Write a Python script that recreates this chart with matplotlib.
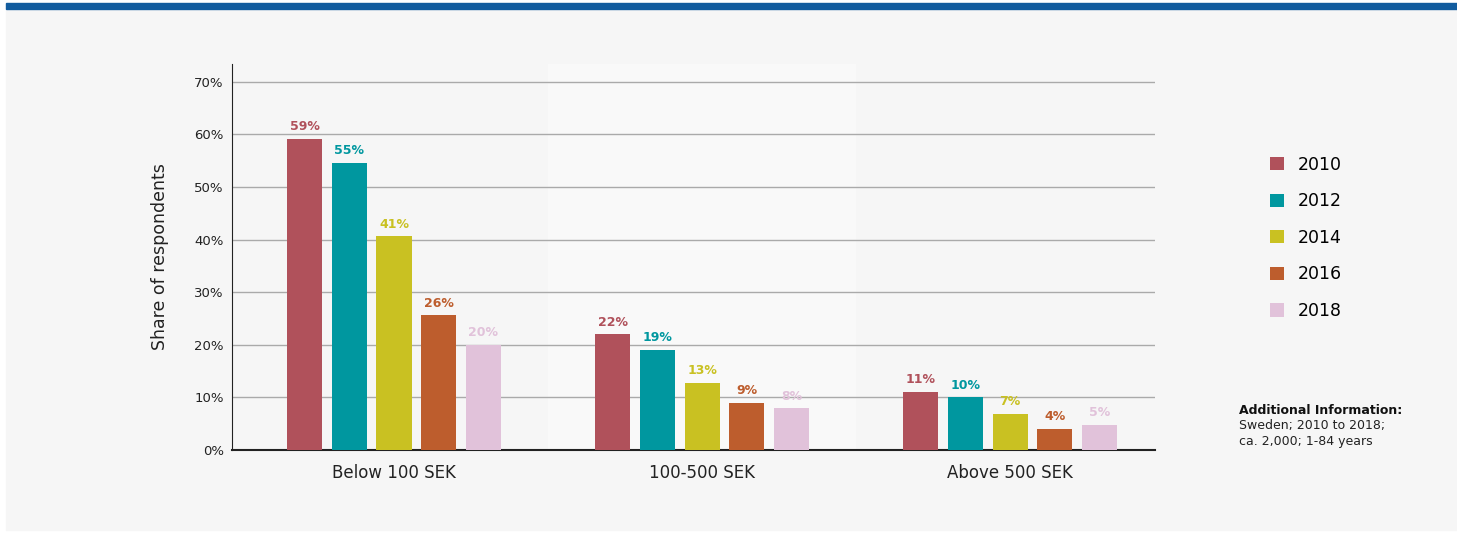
import numpy as np
import matplotlib.pyplot as plt
from matplotlib.patches import Rectangle

# データ
categories = ['Below 100 SEK', '100-500 SEK', 'Above 500 SEK']
years = ['2010', '2012', '2014', '2016', '2018']
share_2010 = [59.1, 22.0, 11.0]
share_2012 = [54.6, 19.1, 10.0]
share_2014 = [40.6, 12.7, 6.8]
share_2016 = [25.6, 8.9, 4.0]
share_2018 = [20.0, 7.9, 4.8]
yticks = [0, 10, 20, 30, 40, 50, 60, 70]

series = [share_2010, share_2012, share_2014, share_2016, share_2018]
colors = ['#b0515b', '#00979f', '#c9c122', '#bd5d2d', '#e1c2da']

plt.rcParams['font.family'] = 'DejaVu Sans'

fig = plt.figure(figsize=(14.57, 5.33), dpi=100)
fig.patch.set_facecolor('white')

# 背景パネルと上部の青い帯
fig.patches.append(Rectangle((6 / 1457, 0.006), 1 - 6 / 1457, 0.979,
                             transform=fig.transFigure, color='#f6f6f6', zorder=-10))
fig.patches.append(Rectangle((6 / 1457, 1 - 8.5 / 533), 1 - 6 / 1457, 6 / 533,
                             transform=fig.transFigure, color='#125c9e', zorder=-5))

ax = fig.add_axes([232 / 1457, 83 / 533, (1155 - 232) / 1457, (450 - 64) / 533])
ax.patch.set_visible(False)

x = np.arange(len(categories))
width = 0.114
step = 0.145

ax.axvspan(0.5, 1.5, color='#f9f9f9', zorder=0, lw=0)

for i, (vals, c, yr) in enumerate(zip(series, colors, years)):
    pos = x + (i - 2) * step
    ax.bar(pos, vals, width, color=c, label=yr, zorder=3)
    for p, v in zip(pos, vals):
        ax.text(p, v + 1.1, f'{round(v)}%', ha='center', va='bottom',
                color=c, fontsize=9, fontweight='bold', zorder=4)

ax.set_xlim(-0.526, 2.47)
ax.set_ylim(0, 73.4)
ax.set_yticks(yticks)
ax.set_yticklabels([f'{t}%' for t in yticks], fontsize=9.5, color='#222222')
ax.set_xticks(x)
ax.set_xticklabels(categories, fontsize=12, color='#222222')
ax.tick_params(axis='both', length=0)
ax.tick_params(axis='x', pad=10)
ax.tick_params(axis='y', pad=6)
ax.grid(axis='y', color='#aaaaaa', lw=1, zorder=1)
ax.set_axisbelow(True)
for s in ['top', 'right']:
    ax.spines[s].set_visible(False)
ax.spines['left'].set_color('#222222')
ax.spines['bottom'].set_color('#222222')
ax.spines['bottom'].set_linewidth(1.5)
ax.set_ylabel('Share of respondents', fontsize=12.5, color='#222222', labelpad=18)

# 凡例
fig.legend(loc='upper left', bbox_to_anchor=(1254 / 1457, 1 - 140 / 533),
           frameon=False, fontsize=12.5, handlelength=0.8, handleheight=0.8,
           handletextpad=0.8, labelspacing=1.07)

# 追加情報
fig.text(1239 / 1457, 1 - 411 / 533, 'Additional Information:', fontsize=9,
         fontweight='bold', va='center', color='#111111')
fig.text(1239 / 1457, 1 - 433.5 / 533, 'Sweden; 2010 to 2018;\nca. 2,000; 1-84 years',
         fontsize=9, va='center', color='#222222', linespacing=1.25)

fig.savefig('out.png', dpi=100)
